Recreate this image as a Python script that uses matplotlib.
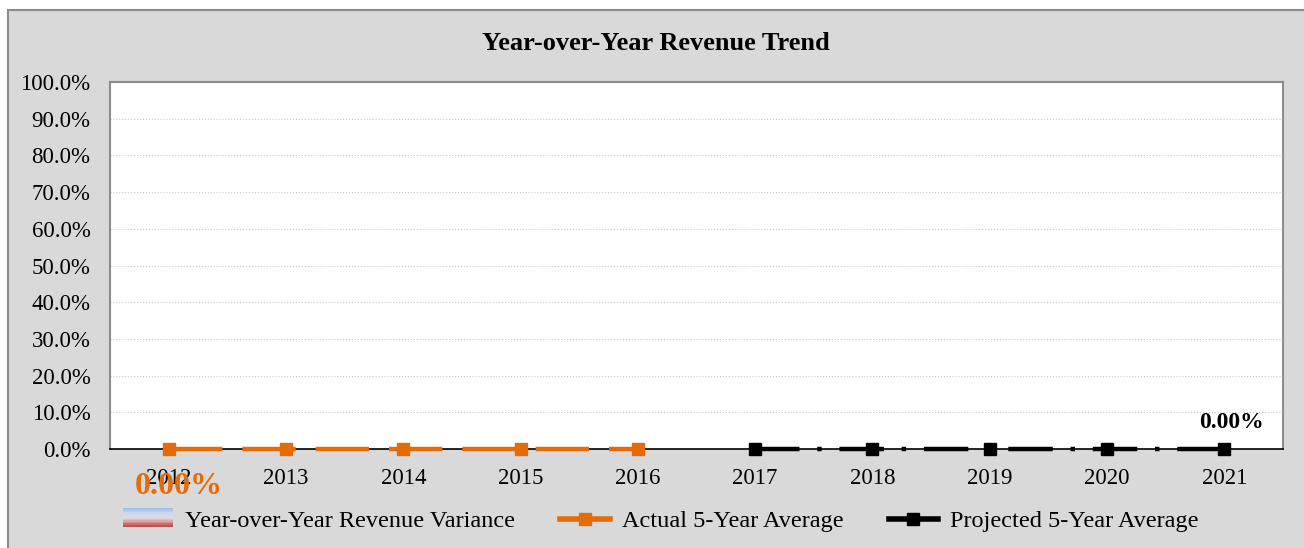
import matplotlib
matplotlib.use("Agg")
import matplotlib.pyplot as plt
import numpy as np
from matplotlib.patches import Rectangle
from matplotlib.lines import Line2D
from matplotlib.legend_handler import HandlerBase
from matplotlib.colors import LinearSegmentedColormap
from matplotlib.ticker import FuncFormatter

plt.rcParams['font.family'] = ['Liberation Serif', 'DejaVu Serif']

years = ['2012', '2013', '2014', '2015', '2016', '2017', '2018', '2019', '2020', '2021']
variance = [0, 0, 0, 0, 0, 0, 0, 0, 0, 0]
actual_avg = [0, 0, 0, 0, 0]          # 2012-2016
projected_avg = [0, 0, 0, 0, 0]       # 2017-2021

ORANGE = '#E36C0A'
grad = LinearSegmentedColormap.from_list(
    'var', ['#9dbbe8', '#c9d6ee', '#e4dfe6', '#d9a3a6', '#c0504d'])


class GradientHandler(HandlerBase):
    def create_artists(self, legend, orig_handle, xd, yd, width, height, fontsize, trans):
        n = 12
        h = height / n
        out = []
        for i in range(n):
            r = Rectangle((xd, yd + height - (i + 1) * h), width, h * 1.05,
                          facecolor=grad(i / (n - 1)), edgecolor='none', transform=trans)
            out.append(r)
        return out


fig = plt.figure(figsize=(13.04, 5.48), dpi=100)
fig.patch.set_facecolor('white')
fig.patches.append(Rectangle((8 / 1304, -0.1), 1.2, 1.1 - 10 / 548,
                             transform=fig.transFigure, facecolor='#d9d9d9',
                             edgecolor='#8c8c8c', linewidth=1.5, zorder=-10))

ax = fig.add_axes([110 / 1304, 1 - 449 / 548, (1283 - 110) / 1304, (449 - 82) / 548])
ax.set_facecolor('white')

x = np.arange(len(years))
bars = ax.bar(x, variance, width=0.6, color='#c9d6ee', linewidth=0)

ax.plot(x[:5], actual_avg, color=ORANGE, linewidth=3.2, dashes=(12, 4.5),
        marker='s', markersize=9, zorder=3, clip_on=False)
ax.plot(x[5:], projected_avg, color='black', linewidth=3.2, dashes=(10, 4, 1, 4),
        marker='s', markersize=9, zorder=3, clip_on=False)

ax.annotate(f'{actual_avg[0]:.2%}', (x[0], actual_avg[0]), xytext=(7, -27),
            textcoords='offset points', ha='center', va='center',
            fontsize=23, fontweight='bold', color=ORANGE, zorder=5,
            annotation_clip=False)
ax.annotate(f'{projected_avg[-1]:.2%}', (x[-1], projected_avg[-1]), xytext=(5, 19),
            textcoords='offset points', ha='center', va='center',
            fontsize=17, fontweight='bold', color='black')

ax.set_xlim(-0.5, len(years) - 0.5)
ax.set_ylim(0, 1)
ax.set_yticks(np.arange(0, 1.01, 0.1))
ax.yaxis.set_major_formatter(FuncFormatter(lambda v, p: f'{v * 100:.1f}%'))
ax.set_xticks(x)
ax.set_xticklabels(years)
ax.tick_params(axis='both', length=0, labelsize=16.5)
ax.tick_params(axis='y', pad=14)
ax.tick_params(axis='x', pad=14)
ax.grid(axis='y', color='#c8c8c8', linestyle=':', linewidth=0.8)
ax.set_axisbelow(True)
for s in ['left', 'top', 'right']:
    ax.spines[s].set_color('#8c8c8c')
    ax.spines[s].set_linewidth(1.5)
ax.spines['bottom'].set_color('black')
ax.spines['bottom'].set_linewidth(1.2)

fig.text(656 / 1304, 1 - 43 / 548, 'Year-over-Year Revenue Trend',
         ha='center', va='center', fontsize=19, fontweight='bold')

handles = [bars,
           Line2D([], [], color=ORANGE, linewidth=4, marker='s', markersize=9),
           Line2D([], [], color='black', linewidth=4, marker='s', markersize=9)]
labels = ['Year-over-Year Revenue Variance', 'Actual 5-Year Average',
          'Projected 5-Year Average']
fig.legend(handles, labels, loc='center', bbox_to_anchor=(661 / 1304, 1 - 521 / 548),
           ncol=3, frameon=False, fontsize=17.5, handlelength=2.05, handleheight=0.8,
           columnspacing=1.85, handletextpad=0.5,
           handler_map={bars: GradientHandler()})

fig.savefig('out.png', dpi=100)
